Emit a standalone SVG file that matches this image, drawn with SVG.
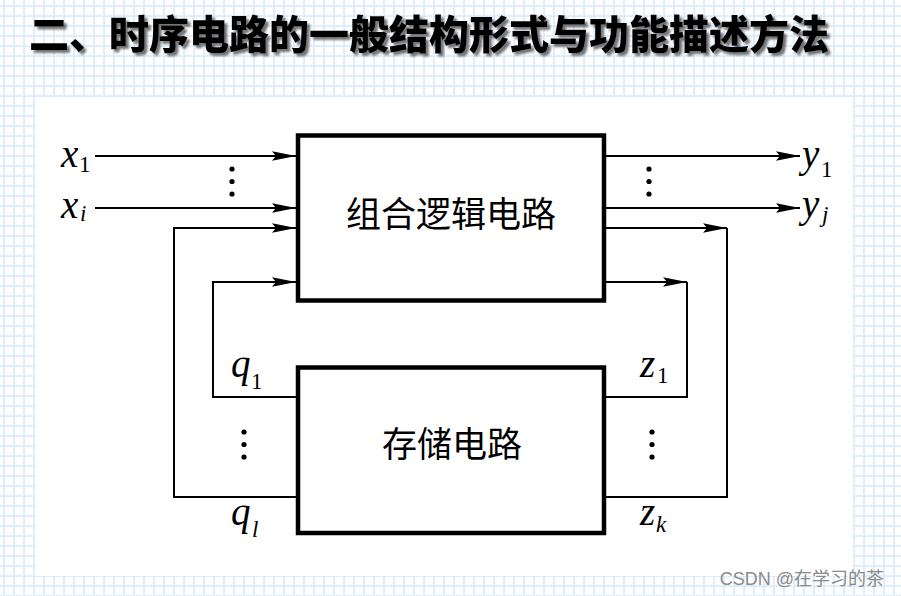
<svg xmlns="http://www.w3.org/2000/svg" width="901" height="596" viewBox="0 0 901 596">
<style>
.box{fill:#fff;stroke:#000;stroke-width:4.5}
.wire{fill:none;stroke:#000;stroke-width:2}
.cjk{font-family:"Noto Sans CJK SC","Noto Sans",sans-serif;fill:#000}
.it{font-family:"Liberation Serif","Times New Roman",serif;font-style:italic;fill:#000;font-size:39px}
.sub{font-family:"Liberation Serif","Times New Roman",serif;fill:#000;font-size:23px}
.si{font-style:italic}
.title{font-family:"Noto Sans CJK SC","Noto Sans",sans-serif;font-weight:900;font-size:40px}
</style>
<defs>
<pattern id="grid" x="3.5" y="5.5" width="10" height="10" patternUnits="userSpaceOnUse">
<path d="M0,0.5H10M0.5,0V10" stroke="#94c8f8" stroke-width="1" stroke-dasharray="1.5 1" fill="none"/>
</pattern>
<marker id="arr" markerUnits="userSpaceOnUse" markerWidth="28" markerHeight="12" refX="26" refY="6" orient="auto" viewBox="0 0 28 12">
<path d="M26,6 L2,1.3 L6,6 L2,10.7 Z" fill="#000"/>
</marker>
<filter id="shadow" x="-5%" y="-20%" width="110%" height="150%">
<feDropShadow dx="3" dy="3" stdDeviation="0.8" flood-color="#555" flood-opacity="0.8"/>
</filter>
</defs>
<rect width="901" height="596" fill="#fff"/>
<rect width="901" height="596" fill="url(#grid)"/>
<rect x="35" y="97" width="818" height="479" fill="#fff"/>
<g id="title">
<text x="29" y="49" class="title" fill="#000" filter="url(#shadow)">二、时序电路的一般结构形式与功能描述方法</text>
</g>
<g id="connectors">
<path class="wire" d="M95,156H296" marker-end="url(#arr)"/>
<path class="wire" d="M95,208H296" marker-end="url(#arr)"/>
<path class="wire" d="M297,497H174V228H296" marker-end="url(#arr)"/>
<path class="wire" d="M297,397H213V282H296" marker-end="url(#arr)"/>
<path class="wire" d="M606,156H800" marker-end="url(#arr)"/>
<path class="wire" d="M606,208H800" marker-end="url(#arr)"/>
<path class="wire" d="M606,228H727" marker-end="url(#arr)"/>
<path class="wire" d="M727,228V497H606"/>
<path class="wire" d="M606,282H687" marker-end="url(#arr)"/>
<path class="wire" d="M687,282V397H606"/>
<g fill="#000">
<circle cx="232" cy="169" r="2.6"/><circle cx="232" cy="181.5" r="2.6"/><circle cx="232" cy="194" r="2.6"/>
<circle cx="649" cy="169" r="2.6"/><circle cx="649" cy="181.5" r="2.6"/><circle cx="649" cy="194" r="2.6"/>
<circle cx="244" cy="432" r="2.6"/><circle cx="244" cy="444.5" r="2.6"/><circle cx="244" cy="457" r="2.6"/>
<circle cx="652" cy="432" r="2.6"/><circle cx="652" cy="444.5" r="2.6"/><circle cx="652" cy="457" r="2.6"/>
</g>
</g>
<g id="comb">
<rect class="box" x="298" y="135.5" width="306" height="165"/>
<text class="cjk" x="451" y="227" font-size="35" text-anchor="middle">组合逻辑电路</text>
</g>
<g id="mem">
<rect class="box" x="298" y="367.5" width="306" height="165.5"/>
<text class="cjk" x="452" y="457" font-size="35" text-anchor="middle">存储电路</text>
</g>
<g id="labels">
<text class="it" x="61" y="167">x</text><text class="sub" x="79" y="172">1</text>
<text class="it" x="61" y="218">x</text><text class="sub si" x="80" y="221">i</text>
<text class="it" x="802" y="167">y</text><text class="sub" x="821" y="177">1</text>
<text class="it" x="802" y="217">y</text><text class="sub si" x="822" y="222">j</text>
<text class="it" x="231" y="377">q</text><text class="sub" x="251" y="389">1</text>
<text class="it" x="231" y="525">q</text><text class="sub si" x="252" y="537">l</text>
<text class="it" x="640" y="377">z</text><text class="sub" x="657" y="383">1</text>
<text class="it" x="640" y="525">z</text><text class="sub si" x="656" y="532">k</text>
</g>
<text x="884" y="585" font-family="Liberation Sans,'Noto Sans CJK SC',sans-serif" font-size="18" fill="#8a8a8a" text-anchor="end">CSDN @在学习的茶</text>
</svg>
